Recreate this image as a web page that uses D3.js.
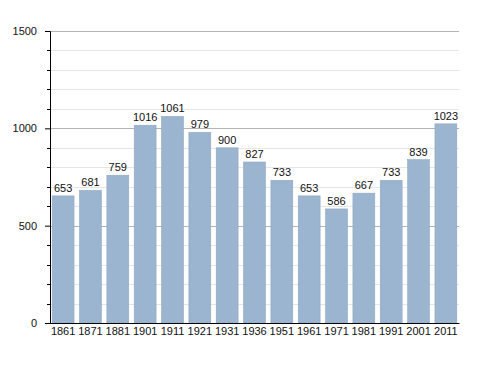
<!DOCTYPE html>
<html>
<head>
<meta charset="utf-8">
<script src="https://cdn.jsdelivr.net/npm/d3@7"></script>
<style>
  body { margin: 0; background: #fff; }
</style>
</head>
<body>
<div id="chart"></div>
<script>
const years = ['1861', '1871', '1881', '1901', '1911', '1921', '1931', '1936', '1951', '1961', '1971', '1981', '1991', '2001', '2011'];
const population = [653, 681, 759, 1016, 1061, 979, 900, 827, 733, 653, 586, 667, 733, 839, 1023];
const majorTicks = [0, 500, 1000, 1500];
const minorTicks = d3.range(0, 1501, 100);

const width = 488;
const height = 373;
const margin = { top: 31, right: 29, bottom: 50, left: 50 };

const svg = d3.select('#chart')
  .append('svg')
  .attr('width', width)
  .attr('height', height)
  .attr('font-family', 'Liberation Sans, Arial, sans-serif');

const x = d3.scaleBand()
  .domain(years)
  .range([margin.left, width - margin.right])
  .paddingInner(0.2)
  .paddingOuter(0.08);

const y = d3.scaleLinear()
  .domain([0, 1500])
  .range([height - margin.bottom, margin.top]);

// grid lines
svg.append('g')
  .selectAll('line')
  .data(minorTicks.filter(d => d % 500 !== 0))
  .enter()
  .append('line')
  .attr('x1', margin.left)
  .attr('x2', width - margin.right)
  .attr('y1', d => Math.round(y(d)) + 0.5)
  .attr('y2', d => Math.round(y(d)) + 0.5)
  .attr('stroke', '#e6e6e6');

svg.append('g')
  .selectAll('line')
  .data(majorTicks.filter(d => d > 0))
  .enter()
  .append('line')
  .attr('x1', margin.left)
  .attr('x2', width - margin.right)
  .attr('y1', d => Math.round(y(d)) + 0.5)
  .attr('y2', d => Math.round(y(d)) + 0.5)
  .attr('stroke', '#b4b4b4');

// bars
svg.append('g')
  .selectAll('rect')
  .data(population)
  .enter()
  .append('rect')
  .attr('x', (d, i) => x(years[i]))
  .attr('y', d => y(d))
  .attr('width', x.bandwidth())
  .attr('height', d => y(0) - y(d))
  .attr('fill', '#9bb4cf')
  .attr('stroke', '#8fa8c4')
  .attr('stroke-width', 0.6);

// value labels
svg.append('g')
  .selectAll('text')
  .data(population)
  .enter()
  .append('text')
  .attr('x', (d, i) => x(years[i]) + x.bandwidth() / 2)
  .attr('y', d => y(d) - 4)
  .attr('text-anchor', 'middle')
  .attr('font-size', '11px')
  .attr('fill', '#111')
  .text(d => d);

// y axis
const yAxis = g => g
  .attr('transform', `translate(${margin.left},0)`)
  .call(d3.axisLeft(y).tickValues(majorTicks).tickSize(5).tickPadding(8).tickFormat(d3.format('d')))
  .call(g => g.select('.domain').attr('stroke', '#000'))
  .call(g => g.selectAll('text').attr('font-size', '11px').attr('fill', '#111').attr('font-family', 'Liberation Sans, Arial, sans-serif'));

svg.append('g').call(yAxis);

svg.append('g')
  .attr('transform', `translate(${margin.left},0)`)
  .selectAll('line')
  .data(minorTicks.filter(d => d % 500 !== 0))
  .enter()
  .append('line')
  .attr('x1', -3)
  .attr('x2', 0)
  .attr('y1', d => Math.round(y(d)) + 0.5)
  .attr('y2', d => Math.round(y(d)) + 0.5)
  .attr('stroke', '#000');

// x axis
const xAxis = g => g
  .attr('transform', `translate(0,${height - margin.bottom})`)
  .call(d3.axisBottom(x).tickSize(0).tickPadding(4).tickSizeOuter(0))
  .call(g => g.select('.domain').attr('stroke', '#000'))
  .call(g => g.selectAll('text').attr('font-size', '11px').attr('fill', '#111').attr('font-family', 'Liberation Sans, Arial, sans-serif'));

svg.append('g').call(xAxis);
</script>
</body>
</html>
